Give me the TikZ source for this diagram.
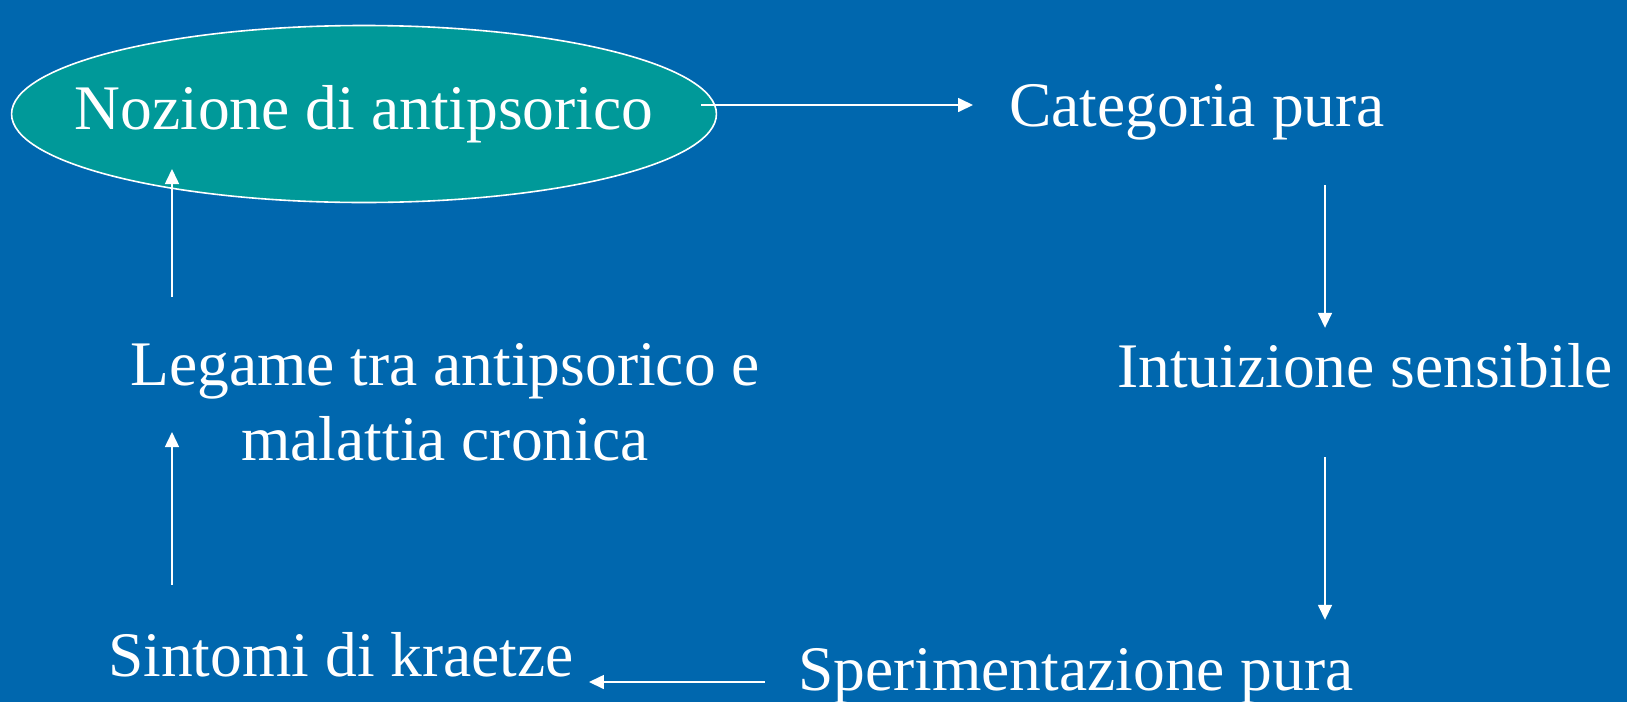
\documentclass[tikz,border=0pt]{standalone}
\usepackage{fontspec}
\setmainfont{Liberation Serif}
\usepackage{xcolor}
\usepackage{tikz}
\usetikzlibrary{shapes.geometric, arrows.meta}
\definecolor{slideblue}{HTML}{0067AE}
\definecolor{ovalfill}{HTML}{009999}
\tikzstyle{oval} = [ellipse, draw=white, line width=1.6pt, fill=ovalfill, inner xsep=-40pt, inner ysep=0pt, minimum height=177pt, text=white]
\tikzstyle{voce} = [text=white, inner sep=0pt, anchor=base, text height=44pt, text depth=14pt]
\tikzstyle{arrow} = [white, line width=1.6pt, -{Triangle[length=15pt,width=14pt]}]

\begin{document}
\begin{tikzpicture}[x=1pt, y=-1pt, font=\fontsize{63.5pt}{75pt}\selectfont]
   \fill [slideblue] (0,0) rectangle (1627,702);
   \useasboundingbox (0,0) rectangle (1627,702);
   \node (nozione) [oval] at (364,114) {Nozione di antipsorico};
   \node (categoria) [voce] at (1197,126) {Categoria pura};
   \node (intuizione) [voce] at (1365,387) {Intuizione sensibile};
   \node (sperimentazione) [voce] at (1076,690) {Sperimentazione pura};
   \node (sintomi) [voce] at (341,676) {Sintomi di kraetze};
   \node (legame) [text=white, inner sep=0pt, anchor=north, align=center] at (445,343) {Legame tra antipsorico e\\malattia cronica};
   \coordinate (rcol) at (1325,0);
   \coordinate (lcol) at (172,0);
   \draw [arrow] ([xshift=-16pt,yshift=9pt]nozione.east) -- ([xshift=-36pt,yshift=6pt]categoria.west);
   \draw [arrow, shorten <=45pt, shorten >=15pt] (categoria.south -| rcol) -- (intuizione.north -| rcol);
   \draw [arrow, shorten <=56pt, shorten >=26pt] (intuizione.south -| rcol) -- (sperimentazione.north -| rcol);
   \draw [arrow] ([xshift=-33pt,yshift=-7pt]sperimentazione.west) -- ([xshift=15pt,yshift=-21pt]sintomi.east);
   \draw [arrow, shorten <=47pt, shorten >=30pt] (sintomi.north -| lcol) -- (legame.west -| lcol);
   \draw [arrow, shorten <=46pt, shorten >=55pt] (legame.north -| lcol) -- (nozione.center -| lcol);
\end{tikzpicture}
\end{document}
